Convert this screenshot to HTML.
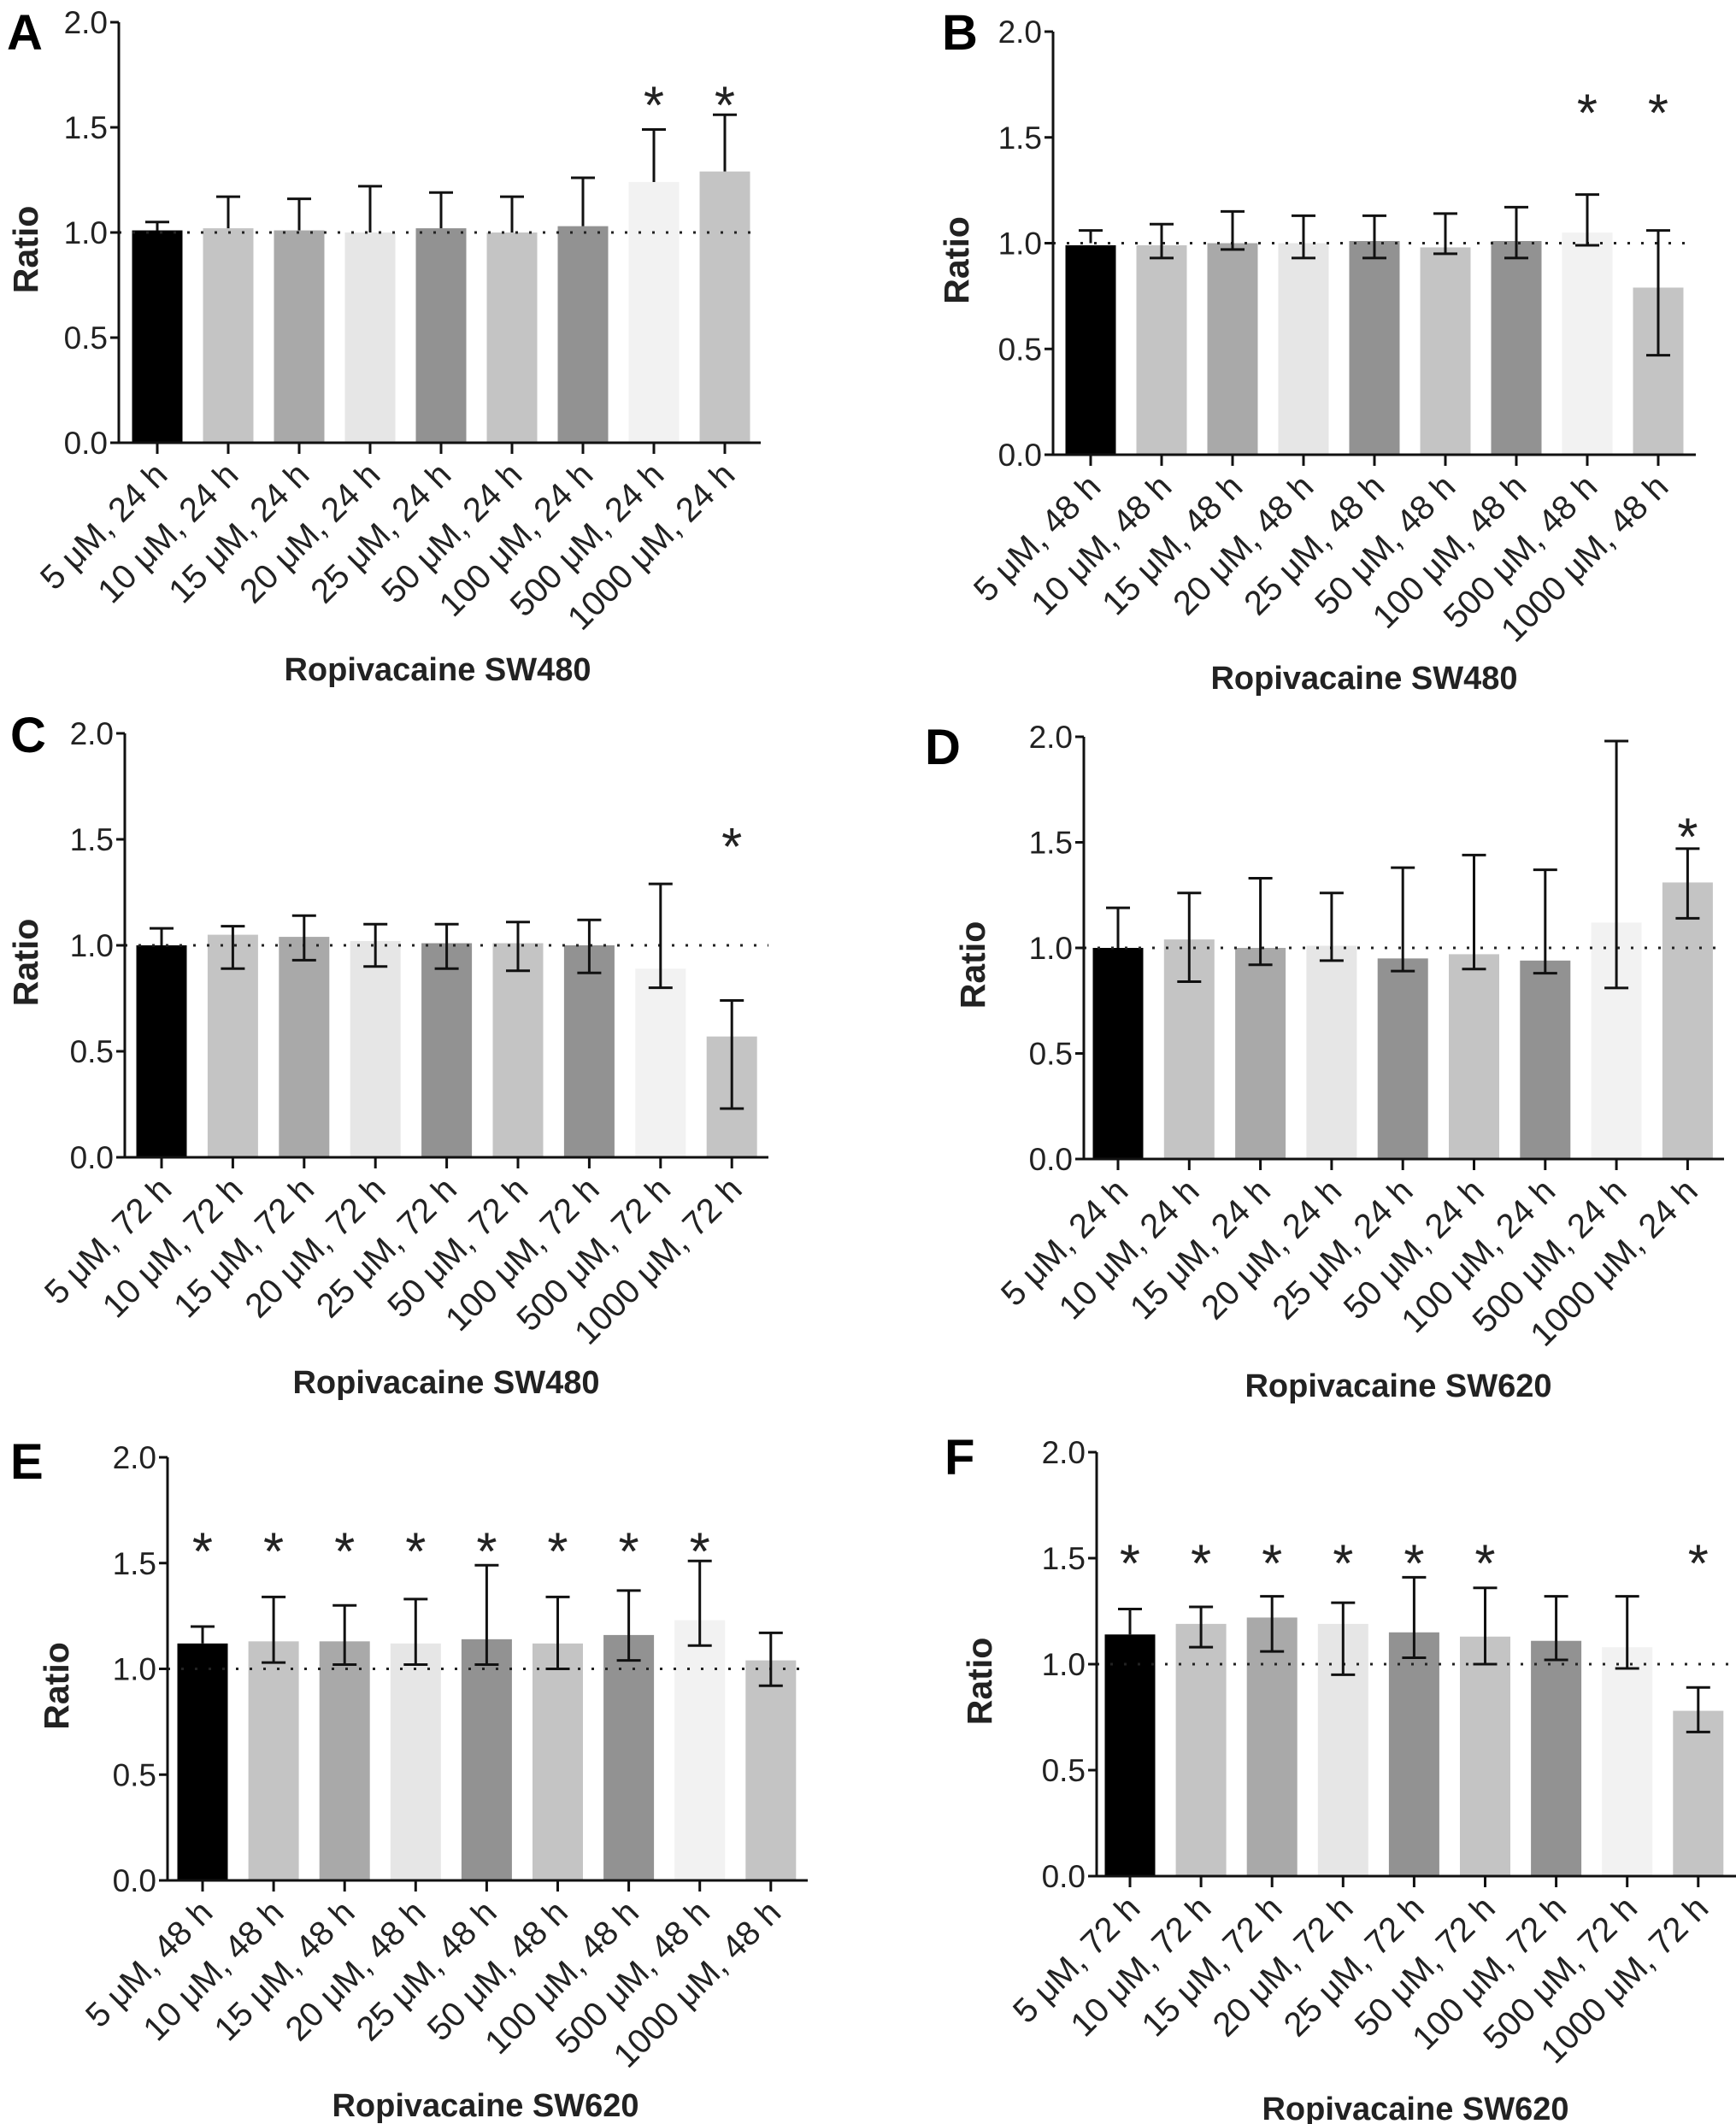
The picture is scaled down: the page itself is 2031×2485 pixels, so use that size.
<!DOCTYPE html>
<html><head><meta charset="utf-8"><style>
body{margin:0;background:#fff}
svg{display:block;font-family:"Liberation Sans",sans-serif}
</style></head><body>
<svg id="fig" width="2031" height="2485" viewBox="0 0 2031 2485" xmlns="http://www.w3.org/2000/svg"></svg>
<script>
const categoriesA = ["5 μM, 24 h","10 μM, 24 h","15 μM, 24 h","20 μM, 24 h","25 μM, 24 h","50 μM, 24 h","100 μM, 24 h","500 μM, 24 h","1000 μM, 24 h"];
const categories48 = ["5 μM, 48 h","10 μM, 48 h","15 μM, 48 h","20 μM, 48 h","25 μM, 48 h","50 μM, 48 h","100 μM, 48 h","500 μM, 48 h","1000 μM, 48 h"];
const categories72 = ["5 μM, 72 h","10 μM, 72 h","15 μM, 72 h","20 μM, 72 h","25 μM, 72 h","50 μM, 72 h","100 μM, 72 h","500 μM, 72 h","1000 μM, 72 h"];
const yTicks = [0.0,0.5,1.0,1.5,2.0];
const tickLabels = ["0.0","0.5","1.0","1.5","2.0"];

const valuesA = [1.01,1.02,1.01,1.0,1.02,1.0,1.03,1.24,1.29];
const errLoA = [1.01,1.02,1.01,1.0,1.02,1.0,1.03,1.24,1.29];
const errHiA = [1.05,1.17,1.16,1.22,1.19,1.17,1.26,1.49,1.56];
const starsA = [7,8];
const starYA = 1.64;

const valuesB = [0.99,0.99,1.0,1.0,1.01,0.98,1.01,1.05,0.79];
const errLoB = [1.0,0.93,0.97,0.93,0.93,0.95,0.93,0.99,0.47];
const errHiB = [1.06,1.09,1.15,1.13,1.13,1.14,1.17,1.23,1.06];
const starsB = [7,8];
const starYB = 1.65;

const valuesC = [1.0,1.05,1.04,1.02,1.01,1.01,1.0,0.89,0.57];
const errLoC = [1.0,0.89,0.93,0.90,0.89,0.88,0.87,0.80,0.23];
const errHiC = [1.08,1.09,1.14,1.10,1.10,1.11,1.12,1.29,0.74];
const starsC = [8];
const starYC = 1.50;

const valuesD = [1.0,1.04,1.0,1.01,0.95,0.97,0.94,1.12,1.31];
const errLoD = [1.0,0.84,0.92,0.94,0.89,0.90,0.88,0.81,1.14];
const errHiD = [1.19,1.26,1.33,1.26,1.38,1.44,1.37,1.98,1.47];
const starsD = [8];
const starYD = 1.56;

const valuesE = [1.12,1.13,1.13,1.12,1.14,1.12,1.16,1.23,1.04];
const errLoE = [1.12,1.03,1.02,1.02,1.02,1.0,1.04,1.11,0.92];
const errHiE = [1.20,1.34,1.30,1.33,1.49,1.34,1.37,1.51,1.17];
const starsE = [0,1,2,3,4,5,6,7];
const starYE = 1.59;

const valuesF = [1.14,1.19,1.22,1.19,1.15,1.13,1.11,1.08,0.78];
const errLoF = [1.14,1.08,1.06,0.95,1.03,1.0,1.02,0.98,0.68];
const errHiF = [1.26,1.27,1.32,1.29,1.41,1.36,1.32,1.32,0.89];
const starsF = [0,1,2,3,4,5,8];
const starYF = 1.51;

const colors = ["#000000","#c4c4c4","#a9a9a9","#e6e6e6","#929292","#c4c4c4","#929292","#f2f2f2","#c4c4c4"];
const NS = "http://www.w3.org/2000/svg";
const svg = document.getElementById("fig");
function mk(tag, attrs, parent){const e=document.createElementNS(NS,tag);for(const k in attrs)e.setAttribute(k,attrs[k]);(parent||svg).appendChild(e);return e;}

function panel(p){
  const g = mk("g",{});
  
  
  const y = v => p.y0 - (p.y0 - p.y2)/2 * v;
  const x = i => p.c0 + p.step*i;
  const bw = 59;
  p.values.forEach((v,i)=>{
    const r = mk("rect",{x:x(i)-bw/2,y:y(v),width:bw,height:p.y0-y(v),fill:colors[i]},g);
    
    
  });
  const ref = mk("line",{x1:p.ax,x2:p.right,y1:y(1),y2:y(1),stroke:"#222","stroke-width":3,"stroke-dasharray":"3 13"},g);
  
  
  p.values.forEach((v,i)=>{
    const eg = mk("g",{stroke:"#111","stroke-width":3,fill:"none"},g);
    
    
    const lo=y(p.lo[i]), hi=y(p.hi[i]);
    mk("line",{x1:x(i),x2:x(i),y1:lo,y2:hi},eg);
    mk("line",{x1:x(i)-14,x2:x(i)+14,y1:hi,y2:hi},eg);
    if(p.lo[i] < v - 0.005) mk("line",{x1:x(i)-14,x2:x(i)+14,y1:lo,y2:lo},eg);
  });
  p.stars.forEach(i=>{
    const t = mk("text",{x:x(i),y:y(p.starY)+30,"text-anchor":"middle","font-size":62,fill:"#222"},g);
    t.textContent="*";
    
    
  });
  const axg = mk("g",{stroke:"#111","stroke-width":3},g);
  
  
  mk("line",{x1:p.ax,x2:p.ax,y1:p.y2,y2:p.y0+1.5},axg);
  mk("line",{x1:p.ax,x2:p.right,y1:p.y0,y2:p.y0},axg);
  yTicks.forEach((t,k)=>{
    mk("line",{x1:p.ax-10,x2:p.ax,y1:y(t),y2:y(t)},axg);
    const tl = mk("text",{x:p.ax-13,y:y(t)+13,"text-anchor":"end","font-size":37,fill:"#222"},g);
    tl.textContent = tickLabels[k];
    
    
  });
  p.cats.forEach((c,i)=>{
    mk("line",{x1:x(i),x2:x(i),y1:p.y0,y2:p.y0+13},axg);
    const tx=x(i)+14, ty=p.y0+40;
    const cl = mk("text",{x:tx,y:ty,"text-anchor":"end","font-size":40,fill:"#222",transform:`rotate(-45 ${tx} ${ty})`},g);
    cl.textContent = c;
    
    
  });
  const yt = mk("text",{x:0,y:0,"text-anchor":"middle","font-size":41,"font-weight":"bold",fill:"#222",transform:`translate(${p.ratioX} ${(p.y0+p.y2)/2+20}) rotate(-90)`},g);
  yt.textContent="Ratio";
  
  
  const xt = mk("text",{x:p.titleX,y:p.titleY,"text-anchor":"middle","font-size":38,"font-weight":"bold",fill:"#222"},g);
  xt.textContent=p.title;
  
  
  const lt = mk("text",{x:p.lx,y:p.ly,"font-size":58,"font-weight":"bold",fill:"#000"},g);
  lt.textContent=p.letter;
  
  
}

panel({letter:"A",cats:categoriesA,values:valuesA,lo:errLoA,hi:errHiA,stars:starsA,starY:starYA,ax:139,right:890,y0:518,y2:26,c0:184,step:83,ratioX:44,titleX:512,titleY:796,title:"Ropivacaine SW480",lx:8,ly:58});
panel({letter:"B",cats:categories48,values:valuesB,lo:errLoB,hi:errHiB,stars:starsB,starY:starYB,ax:1232,right:1984,y0:532,y2:37,c0:1276,step:83,ratioX:1133,titleX:1596,titleY:806,title:"Ropivacaine SW480",lx:1102,ly:58});
panel({letter:"C",cats:categories72,values:valuesC,lo:errLoC,hi:errHiC,stars:starsC,starY:starYC,ax:146,right:899,y0:1354,y2:858,c0:189,step:83.4,ratioX:44,titleX:522,titleY:1630,title:"Ropivacaine SW480",lx:12,ly:880});
panel({letter:"D",cats:categoriesA,values:valuesD,lo:errLoD,hi:errHiD,stars:starsD,starY:starYD,ax:1268,right:2017,y0:1356,y2:862,c0:1308,step:83.3,ratioX:1152,titleX:1636,titleY:1634,title:"Ropivacaine SW620",lx:1082,ly:894});
panel({letter:"E",cats:categories48,values:valuesE,lo:errLoE,hi:errHiE,stars:starsE,starY:starYE,ax:196,right:945,y0:2200,y2:1705,c0:237,step:83.1,ratioX:80,titleX:568,titleY:2476,title:"Ropivacaine SW620",lx:12,ly:1730});
panel({letter:"F",cats:categories72,values:valuesF,lo:errLoF,hi:errHiF,stars:starsF,starY:starYF,ax:1283,right:2031,y0:2195,y2:1699,c0:1322,step:83.1,ratioX:1160,titleX:1656,titleY:2480,title:"Ropivacaine SW620",lx:1105,ly:1725});
</script>
</body></html>
